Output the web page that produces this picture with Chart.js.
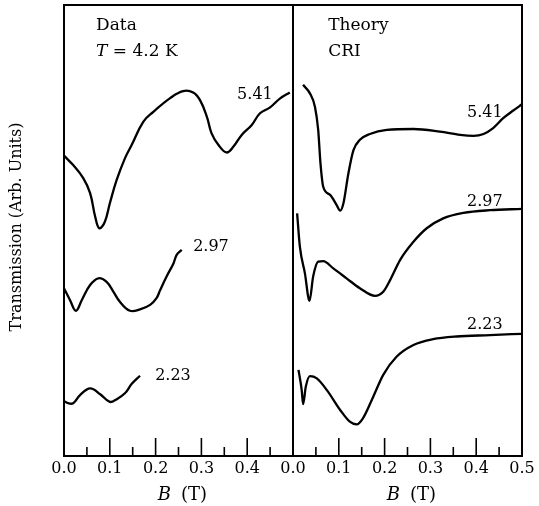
<!DOCTYPE html>
<html>
<head>
<meta charset="utf-8">
<script src="https://cdn.jsdelivr.net/npm/chart.js@4.4.1/dist/chart.umd.min.js"></script>
<style>
  html, body { margin: 0; padding: 0; background: #fff; }
  #wrap { position: relative; width: 539px; height: 506px; }
  #wrap canvas { position: absolute; left: 0; top: 0; }
</style>
</head>
<body>
<div id="wrap">
  <canvas id="chartData" width="539" height="506"></canvas>
  <canvas id="chartTheory" width="539" height="506"></canvas>
</div>
<script>
// ---- datos (B en T, transmision en unidades arbitrarias) ----
var curveLabels = ['5.41', '2.97', '2.23'];
var tickLabels = ['0.0', '0.1', '0.2', '0.3', '0.4', '0.5'];

// panel izquierdo: Data, T = 4.2 K
var dataX541 = [0.000, 0.020, 0.042, 0.057, 0.068, 0.077, 0.089, 0.100, 0.115, 0.133, 0.148, 0.173, 0.195, 0.231, 0.260, 0.282, 0.297, 0.312, 0.322, 0.337, 0.355, 0.370, 0.388, 0.410, 0.428, 0.450, 0.472, 0.493];
var dataY541 = [66.6, 64.5, 61.6, 58.3, 53.1, 50.5, 51.9, 56.0, 61.2, 66.0, 69.0, 74.1, 76.3, 79.3, 80.9, 80.6, 78.9, 75.2, 71.6, 69.0, 67.3, 68.6, 71.2, 73.4, 76.0, 77.3, 79.3, 80.6];
var dataX297 = [0.000, 0.013, 0.026, 0.039, 0.057, 0.075, 0.093, 0.108, 0.122, 0.144, 0.166, 0.188, 0.202, 0.210, 0.224, 0.239, 0.246, 0.257];
var dataY297 = [37.2, 34.6, 32.2, 34.6, 37.9, 39.4, 38.6, 36.4, 34.2, 32.2, 32.5, 33.5, 35.0, 36.8, 39.8, 42.7, 44.6, 45.7];
var dataX223 = [0.000, 0.009, 0.020, 0.035, 0.057, 0.079, 0.100, 0.115, 0.133, 0.148, 0.166];
var dataY223 = [12.2, 11.7, 11.7, 13.5, 15.0, 13.7, 12.0, 12.6, 13.9, 16.0, 17.8];

// panel derecho: Theory, CRI
var theoryX541 = [0.022, 0.037, 0.048, 0.055, 0.060, 0.066, 0.081, 0.095, 0.103, 0.110, 0.121, 0.132, 0.146, 0.168, 0.205, 0.263, 0.321, 0.365, 0.394, 0.416, 0.437, 0.459, 0.481, 0.500];
var theoryY541 = [82.3, 80.4, 77.4, 72.3, 64.9, 59.7, 57.9, 55.7, 54.4, 56.0, 62.7, 67.8, 70.1, 71.4, 72.3, 72.5, 71.9, 71.2, 71.0, 71.4, 72.7, 74.9, 76.6, 78.0];
var theoryX297 = [0.009, 0.015, 0.026, 0.036, 0.044, 0.055, 0.066, 0.088, 0.117, 0.146, 0.179, 0.197, 0.212, 0.234, 0.263, 0.292, 0.328, 0.372, 0.430, 0.500];
var theoryY297 = [53.8, 46.4, 40.5, 34.4, 39.8, 43.1, 43.2, 41.6, 39.4, 37.2, 35.5, 36.4, 39.0, 43.5, 47.5, 50.5, 52.7, 53.9, 54.5, 54.8];
var theoryX223 = [0.012, 0.019, 0.022, 0.028, 0.037, 0.052, 0.074, 0.103, 0.124, 0.139, 0.153, 0.175, 0.197, 0.226, 0.263, 0.306, 0.357, 0.430, 0.500];
var theoryY223 = [19.1, 14.6, 11.5, 15.4, 17.7, 17.2, 14.6, 10.2, 7.6, 7.0, 8.4, 13.1, 18.0, 22.0, 24.6, 25.9, 26.5, 26.8, 27.1];

var FONT = '"DejaVu Serif", serif';
Chart.defaults.color = '#000';
Chart.defaults.font.family = FONT;

function pares(xs, ys) {
  return xs.map(function (x, i) { return { x: x, y: ys[i] }; });
}

// suave = curva bezier (datos medidos), si no monotona (teoria con picos finos)
function serie(xs, ys, suave) {
  var ds = {
    data: pares(xs, ys),
    borderColor: '#000',
    borderWidth: 2.3,
    pointRadius: 0,
    fill: false
  };
  if (suave) ds.tension = 0.4;
  else ds.cubicInterpolationMode = 'monotone';
  return ds;
}

// texto con partes en cursiva, p.ej. "T = 4.2 K"
function textoMixto(ctx, partes, x, y, size) {
  partes.forEach(function (p) {
    ctx.font = (p.it ? 'italic ' : '') + size + 'px ' + FONT;
    ctx.fillText(p.s, x, y);
    x += ctx.measureText(p.s).width;
  });
}

// marco, ticks hacia adentro, anotaciones y titulos
var marcoPlugin = {
  id: 'marco',
  afterDraw: function (chart, args, opts) {
    var ctx = chart.ctx, a = chart.chartArea;
    var sx = chart.scales.x, sy = chart.scales.y;
    ctx.save();
    ctx.strokeStyle = '#000';
    ctx.fillStyle = '#000';
    ctx.lineWidth = 2;
    ctx.strokeRect(a.left, a.top, a.right - a.left, a.bottom - a.top);

    ctx.lineWidth = 1.6;
    for (var i = 1; i < 10; i++) {
      var px = sx.getPixelForValue(i * 0.05);
      var len = (i % 2) ? 9 : 18;
      ctx.beginPath();
      ctx.moveTo(px, a.bottom);
      ctx.lineTo(px, a.bottom - len);
      ctx.stroke();
    }

    ctx.textBaseline = 'alphabetic';
    opts.cabecera.forEach(function (t) {
      textoMixto(ctx, t.partes, sx.getPixelForValue(t.x), sy.getPixelForValue(t.y), 17);
    });

    ctx.textBaseline = 'middle';
    ctx.font = '16px ' + FONT;
    opts.etiquetas.forEach(function (t, i) {
      ctx.fillText(curveLabels[i], sx.getPixelForValue(t.x), sy.getPixelForValue(t.y));
    });

    // titulo eje x: B (T)
    ctx.font = 'italic 18px ' + FONT;
    var wB = ctx.measureText('B').width;
    ctx.font = '18px ' + FONT;
    var wT = ctx.measureText('(T)').width;
    var gap = 10;
    var cx = (a.left + a.right) / 2 + 4;
    var x0 = cx - (wB + gap + wT) / 2;
    ctx.font = 'italic 18px ' + FONT;
    ctx.fillText('B', x0, 495);
    ctx.font = '18px ' + FONT;
    ctx.fillText('(T)', x0 + wB + gap, 495);

    if (opts.tituloY) {
      ctx.translate(17, 227);
      ctx.rotate(-Math.PI / 2);
      ctx.textAlign = 'center';
      ctx.font = '16px ' + FONT;
      ctx.fillText(opts.tituloY, 0, 0);
    }
    ctx.restore();
  }
};

function crearPanel(id, datasets, pad, ocultar05, marcoOpts) {
  return new Chart(document.getElementById(id), {
    type: 'line',
    data: { datasets: datasets },
    options: {
      responsive: false,
      animation: false,
      events: [],
      layout: { padding: pad },
      plugins: { legend: { display: false }, tooltip: { enabled: false }, marco: marcoOpts },
      scales: {
        x: {
          type: 'linear', min: 0, max: 0.5,
          grid: { display: false, drawTicks: false },
          border: { display: false },
          ticks: {
            stepSize: 0.1, padding: 3, maxRotation: 0,
            font: { size: 16, family: FONT },
            callback: function (v) {
              var k = Math.round(v * 10);
              if (ocultar05 && k === 5) return '';
              return tickLabels[k];
            }
          }
        },
        y: { type: 'linear', min: 0, max: 100, display: false }
      }
    },
    plugins: [marcoPlugin]
  });
}

crearPanel('chartData',
  [serie(dataX541, dataY541, true), serie(dataX297, dataY297, true), serie(dataX223, dataY223, true)],
  { left: 64, right: 246, top: 5, bottom: 24.8 }, true,
  {
    tituloY: 'Transmission (Arb. Units)',
    cabecera: [
      { x: 0.070, y: 94.4, partes: [{ s: 'Data' }] },
      { x: 0.070, y: 88.6, partes: [{ s: 'T', it: true }, { s: ' = 4.2 K' }] }
    ],
    etiquetas: [{ x: 0.378, y: 80.0 }, { x: 0.282, y: 46.3 }, { x: 0.199, y: 17.7 }]
  });

crearPanel('chartTheory',
  [serie(theoryX541, theoryY541, false), serie(theoryX297, theoryY297, false), serie(theoryX223, theoryY223, false)],
  { left: 293, right: 17, top: 5, bottom: 24.8 }, false,
  {
    tituloY: null,
    cabecera: [
      { x: 0.077, y: 94.4, partes: [{ s: 'Theory' }] },
      { x: 0.077, y: 88.6, partes: [{ s: 'CRI' }] }
    ],
    etiquetas: [{ x: 0.380, y: 76.1 }, { x: 0.380, y: 56.3 }, { x: 0.380, y: 29.0 }]
  });
</script>
</body>
</html>
